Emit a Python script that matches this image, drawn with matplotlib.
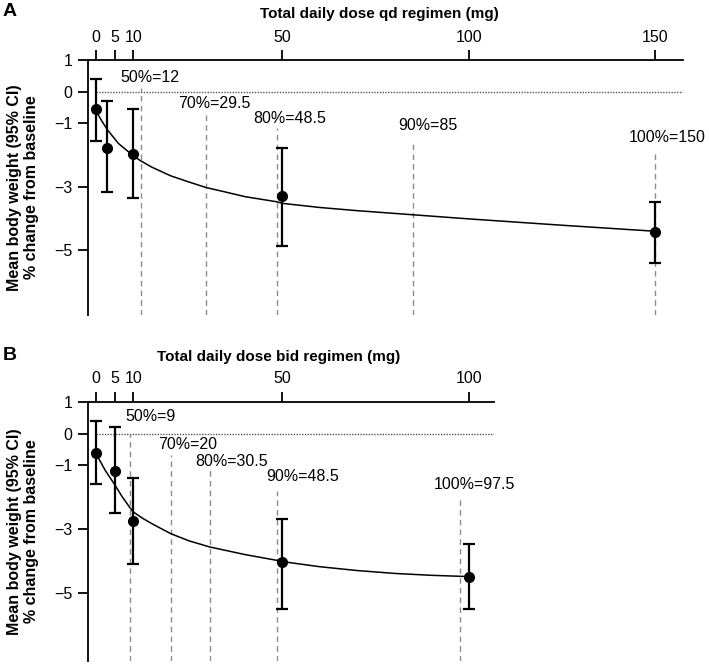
import matplotlib.pyplot as plt

plt.rcParams["font.family"] = ["Liberation Sans", "DejaVu Sans"]

# Panel A - qd regimen
qd_dose = [0, 3, 10, 50, 150]
qd_mean = [-0.55, -1.77, -1.96, -3.30, -4.43]
qd_lo = [-1.55, -3.15, -3.34, -4.86, -5.39]
qd_hi = [0.39, -0.30, -0.55, -1.76, -3.47]
qd_curve_x = [0, 1.5, 3, 6, 10, 12, 15, 20, 25, 29.5, 35, 40, 48.5, 50, 60, 70, 85, 100,
              125, 150]
qd_curve_y = [-0.61, -0.91, -1.19, -1.63, -2.02, -2.18, -2.38, -2.65, -2.85, -3.02,
              -3.17, -3.31, -3.47, -3.52, -3.65, -3.75, -3.88, -4.01, -4.21, -4.40]
qd_pct = ["50%", "70%", "80%", "90%", "100%"]
qd_ed = [12, 29.5, 48.5, 85, 150]
qd_ed_text = ["12", "29.5", "48.5", "85", "150"]
qd_ticks = [0, 5, 10, 50, 100, 150]

# Panel B - bid regimen
bid_dose = [0, 5, 10, 50, 100]
bid_mean = [-0.60, -1.16, -2.76, -4.03, -4.49]
bid_lo = [-1.57, -2.50, -4.11, -5.50, -5.50]
bid_hi = [0.40, 0.21, -1.40, -2.67, -3.46]
bid_curve_x = [0, 2.5, 5, 7, 9, 10, 12.5, 15, 20, 25, 30.5, 40, 48.5, 50, 60, 70, 80,
               90, 100]
bid_curve_y = [-0.63, -1.16, -1.60, -1.98, -2.31, -2.46, -2.66, -2.83, -3.14, -3.37,
               -3.56, -3.80, -3.98, -4.02, -4.18, -4.30, -4.39, -4.45, -4.49]
bid_pct = ["50%", "70%", "80%", "90%", "100%"]
bid_ed = [9, 20, 30.5, 48.5, 97.5]
bid_ed_text = ["9", "20", "30.5", "48.5", "97.5"]
bid_ticks = [0, 5, 10, 50, 100]

yticks = [1, 0, -1, -3, -5]

fig = plt.figure(figsize=(7.09, 6.64), dpi=100)
axA = fig.add_axes([88 / 709, 1 - 315 / 664, 595 / 709, 255 / 664])
axB = fig.add_axes([88 / 709, 1 - 660.7 / 664, 406 / 709, 259 / 664])


def draw(ax, dose, mean, lo, hi, cx, cy, pct, ed, ed_text, ticks, xmax, ymin,
         line_top, lab_x, lab_y, xlabel, xlab_pos, letter, letter_y):
    ax.set_xlim(-2.14, xmax)
    ax.set_ylim(ymin, 1.0)

    # reference lines
    ax.hlines(0, 0, xmax, colors="#555555", linestyles=(0, (1, 1)), lw=1, zorder=1)
    for e, top in zip(ed, line_top):
        ax.vlines(e, ymin, top, colors="#8c8c8c", linestyles=(0, (4, 3)), lw=1, zorder=1)
    for p, t, x, y in zip(pct, ed_text, lab_x, lab_y):
        ax.text(x, y, p + "=" + t, ha="center", va="center", fontsize=11.5)

    # model curve and observed means
    ax.plot(cx, cy, color="black", lw=1.1, zorder=2)
    err = [[m - l for m, l in zip(mean, lo)], [h - m for m, h in zip(mean, hi)]]
    ax.errorbar(dose, mean, yerr=err, fmt="o", color="black", ms=7, capsize=4.5,
                elinewidth=1.6, capthick=1.6, zorder=3)

    ax.spines["right"].set_visible(False)
    ax.spines["bottom"].set_visible(False)
    ax.spines["top"].set_linewidth(1.3)
    ax.spines["left"].set_linewidth(1.3)
    ax.xaxis.tick_top()
    ax.set_xticks(ticks)
    ax.set_yticks(yticks)
    ax.set_yticklabels([str(v).replace("-", "\u2212") for v in yticks])
    ax.tick_params(axis="both", direction="out", length=7.5, width=1.3,
                   labelsize=11.5, pad=3.5)

    ax.xaxis.set_label_position("top")
    ax.set_xlabel(xlabel, fontsize=11, fontweight="bold")
    ax.xaxis.set_label_coords(xlab_pos[0], xlab_pos[1])
    ax.set_ylabel("Mean body weight (95% CI)\n% change from baseline",
                  fontsize=11.5, fontweight="bold", linespacing=1.2)
    ax.yaxis.set_label_coords(-49 / (ax.get_position().width * 709), 0.5)

    fig.text(3 / 709, 1 - letter_y / 664, letter, fontsize=14, fontweight="bold",
             ha="left", va="bottom")


draw(axA, qd_dose, qd_mean, qd_lo, qd_hi, qd_curve_x, qd_curve_y, qd_pct, qd_ed,
     qd_ed_text, qd_ticks, 157.4, -7.04,
     [0.11, -0.71, -1.15, -1.52, -1.87],
     [14.5, 31.6, 52.0, 89.0, 153.1],
     [0.45, -0.36, -0.83, -1.08, -1.43],
     "Total daily dose qd regimen (mg)", (0.49, 1.165), "A", 20)

draw(axB, bid_dose, bid_mean, bid_lo, bid_hi, bid_curve_x, bid_curve_y, bid_pct, bid_ed,
     bid_ed_text, bid_ticks, 106.7, -7.13,
     [0.0, -0.66, -1.06, -1.81, -1.99],
     [14.7, 24.7, 36.3, 55.4, 101.5],
     [0.55, -0.35, -0.87, -1.34, -1.60],
     "Total daily dose bid regimen (mg)", (0.47, 1.157), "B", 364)

fig.savefig("out.png", dpi=100)
